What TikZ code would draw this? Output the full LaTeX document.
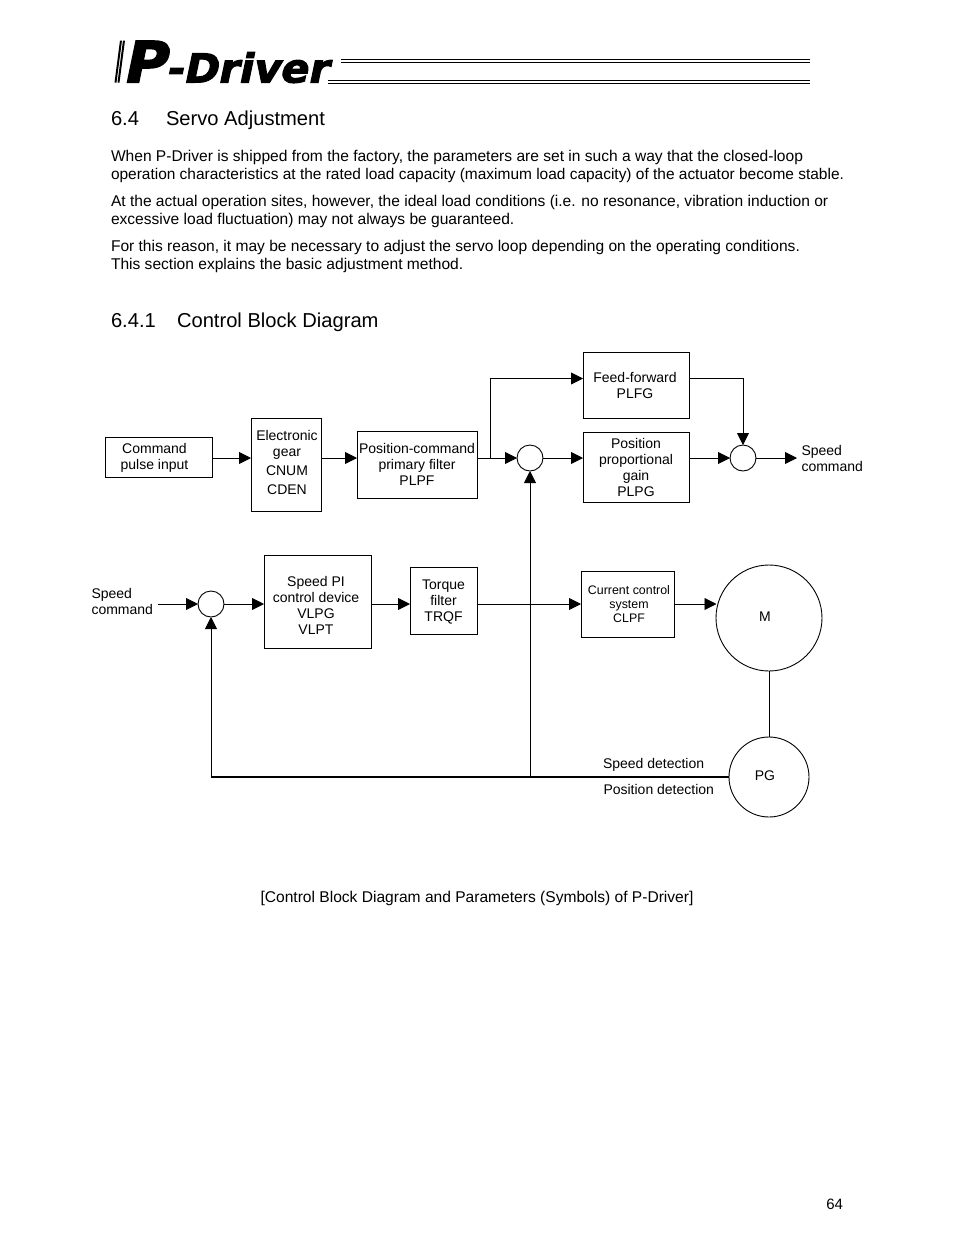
\documentclass[tikz,border=0pt]{standalone}
\usepackage{fontspec}
\setmainfont{Liberation Sans}
\newfontfamily\logofont[BoldFeatures={FakeSlant=0.2,FakeBold=2.5}]{DejaVu Sans}
\usetikzlibrary{arrows.meta}
\tikzset{
  x=1pt,y=-1pt,
  every node/.style={inner sep=0pt,outer sep=0pt},
  blk/.style={draw=black,line width=0.9pt,align=center,font=\fontsize{14}{16}\selectfont,fill=white},
  blktext/.style={align=center,font=\fontsize{14}{16}\selectfont},
  sumc/.style={draw=black,line width=0.9pt,circle,minimum size=26pt},
  bigc/.style={draw=black,line width=0.9pt,circle,font=\fontsize{14}{16}\selectfont},
  conn/.style={line width=0.9pt,-{Triangle[length=12pt,width=12pt]}},
  wire/.style={line width=0.9pt},
  lbl/.style={font=\fontsize{14}{16}\selectfont,align=left},
  body/.style={anchor=base west,font=\fontsize{15.57}{18}\selectfont},
  head/.style={anchor=base west,font=\fontsize{20.15}{24}\selectfont},
  rule/.style={line width=1pt},
}
\begin{document}
\begin{tikzpicture}
\useasboundingbox (0,0) rectangle (954,1235);
\fill[white] (0,0) rectangle (954,1235);
% logo
\fill[black] (120,40.5) -- (122,40.5) -- (116.5,82.5) -- (114.5,82.5) -- cycle;
\fill[black] (123,40.5) -- (125,40.5) -- (119.5,82.5) -- (117.5,82.5) -- cycle;
\node[anchor=base west,xscale=1.04,transform shape] (logo) at (122,82.5) {\logofont\bfseries\fontsize{57}{57}\selectfont P\fontsize{40}{40}\selectfont -Driver};
\draw[rule] (341,59.5) -- (810,59.5);
\draw[rule] (341,62.5) -- (810,62.5);
\draw[rule] (328,80.5) -- (810,80.5);
\draw[rule] (328,83) -- (810,83);
% text
\node[head] at (111,125) {6.4};
\node[head] at (166,125) {Servo Adjustment};
\node[body] at (111,161) {When P-Driver is shipped from the factory, the parameters are set in such a way that the closed-loop};
\node[body,font=\fontsize{15.46}{18}\selectfont] at (111,179) {operation characteristics at the rated load capacity (maximum load capacity) of the actuator become stable.};
\node[body] at (111,206) {At the actual operation sites, however, the ideal load conditions (i.e. no resonance, vibration induction or};
\node[body] at (111,224) {excessive load fluctuation) may not always be guaranteed.};
\node[body] at (111,251) {For this reason, it may be necessary to adjust the servo loop depending on the operating conditions.};
\node[body] at (111,269) {This section explains the basic adjustment method.};
\node[head] at (111,327) {6.4.1};
\node[head] at (177,327) {Control Block Diagram};
% blocks
\node[blk,minimum width=107pt,minimum height=40pt,label={[blktext,xshift=-4pt,yshift=-1pt]center:{Command\\pulse input}}] (cmd) at (158.5,457) {};
\node[blk,minimum width=70pt,minimum height=93pt,label={[blktext,xshift=1pt,yshift=2pt]center:{Electronic\\gear\\[3pt]CNUM\\[3pt]CDEN}}] (gear) at (286,464.5) {};
\node[blk,minimum width=120pt,minimum height=67pt] (pcf) at (417,464.5) {Position-command\\primary filter\\PLPF};
\node[sumc] (s1) at (530,458) {};
\node[blk,minimum width=106pt,minimum height=66pt,label={[blktext,xshift=-1pt]center:{Feed-forward\\PLFG}}] (ff) at (636,385) {};
\node[blk,minimum width=106pt,minimum height=70pt] (ppg) at (636,467) {Position\\proportional\\gain\\PLPG};
\node[sumc] (s2) at (743,458) {};
\node[lbl,anchor=west] (sc1) at (801.5,458) {Speed\\command};
\node[lbl,anchor=west] (sc2) at (91.5,601) {Speed\\command};
\node[sumc] (s3) at (211,604) {};
\node[blk,minimum width=107pt,minimum height=93pt,label={[blktext,xshift=-1.5pt,yshift=-4pt]center:{Speed PI\\control device\\VLPG\\VLPT}}] (pi) at (317.5,601.5) {};
\node[blk,minimum width=67pt,minimum height=67pt,label={[blktext,yshift=-1pt]center:{Torque\\filter\\TRQF}}] (trq) at (443.5,600.5) {};
\node[blk,minimum width=93pt,minimum height=66pt,label={[blktext,xshift=1.5pt,font=\fontsize{12.4}{14}\selectfont]center:{Current control\\system\\CLPF}}] (cur) at (627.5,604) {};
\node[bigc,minimum size=106pt] (M) at (769,618) {};
\node[bigc,minimum size=80pt] (PG) at (769,777) {};
\node[lbl,anchor=center] at (765,617) {M};
\node[lbl,anchor=center] at (765,776) {PG};
\node[lbl,anchor=base west] (sd) at (603,768) {Speed detection};
\node[lbl,anchor=base west] (pd) at (603.5,794) {Position detection};
\node[anchor=base,font=\fontsize{15.58}{18}\selectfont] at (477,902) {[Control Block Diagram and Parameters (Symbols) of P-Driver]};
\node[anchor=base east,font=\fontsize{15}{18}\selectfont] at (843,1209) {64};
% connectors
\coordinate (br1) at (490.5,458);
\coordinate (br2) at (530,777);
\coordinate (cor) at (211,777);
\coordinate (c1) at (490.5,378.5);
\coordinate (c2) at (743,378.5);
\coordinate (o1) at (797,458);
\coordinate (i3) at (158,604);
\draw[conn] (cmd.east |- 0,458) -- (gear.west |- 0,458);
\draw[conn] (gear.east |- 0,458) -- (pcf.west |- 0,458);
\draw[conn] (pcf.east |- 0,458) -- (s1.west);
\draw[conn] (br1) -- (c1) -- (ff.west |- c1);
\draw[conn] (s1.east) -- (ppg.west |- s1.east);
\draw[conn] (ppg.east |- s2.west) -- (s2.west);
\draw[conn] (ff.east |- c2) -- (c2) -- (s2.north);
\draw[conn] (s2.east) -- (o1);
\draw[conn] (i3) -- (s3.west);
\draw[conn] (s3.east) -- (pi.west |- s3.east);
\draw[conn] (pi.east |- s3.east) -- (trq.west |- s3.east);
\draw[conn] (trq.east |- s3.east) -- (cur.west |- s3.east);
\draw[conn] (cur.east) -- (716.5,604);
\draw[wire] (M.south) -- (PG.north);
\draw[line width=1.2pt] (PG.west) -- (cor);
\draw[conn] (cor) -- (s3.south);
\draw[conn] (br2) -- (s1.south);
\end{tikzpicture}
\end{document}
